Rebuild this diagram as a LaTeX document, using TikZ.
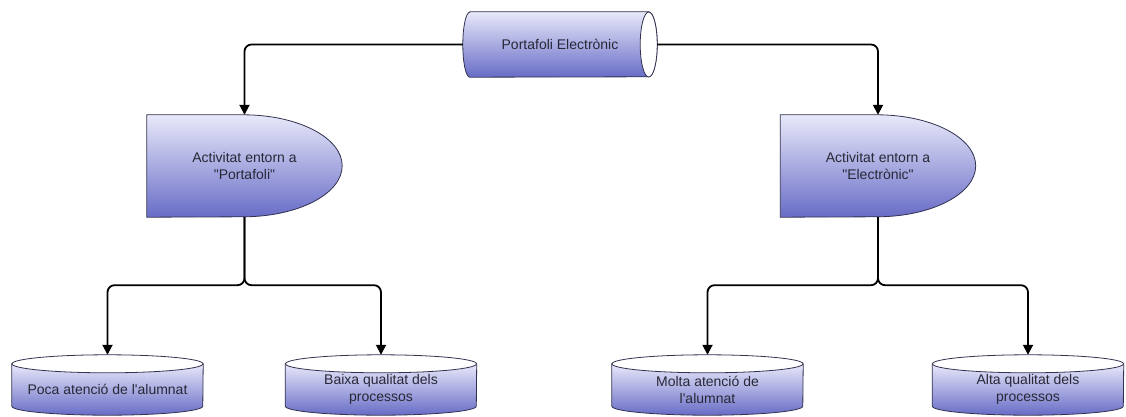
\documentclass[tikz,border=0pt]{standalone}
\usepackage{fontspec}
\setmainfont{Liberation Sans}
\usetikzlibrary{arrows.meta,calc}
\definecolor{shapetop}{RGB}{232,233,250}
\definecolor{shapebot}{RGB}{104,108,198}
\definecolor{shapeline}{RGB}{50,50,80}
\definecolor{labeltext}{RGB}{40,40,55}
\pgfdeclarelayer{background}
\pgfsetlayers{background,main}

\begin{document}
\begin{tikzpicture}[
    x=1pt, y=1pt,
    >={Triangle[length=10pt,width=10pt]},
    lbl/.style={align=center, inner sep=0pt, text=labeltext, font=\fontsize{14}{17}\selectfont},
    tube/.style={lbl, minimum width=194pt, minimum height=65pt},
    delay/.style={lbl, minimum width=195pt, minimum height=102pt},
    drum/.style={lbl, minimum width=191pt, minimum height=51pt},
    body/.style={draw=shapeline, line width=0.8pt, top color=shapetop, bottom color=shapebot},
    lid/.style={draw=shapeline, line width=0.8pt, fill=white},
    conn/.style={->, line width=1.8pt, rounded corners=7pt}
]
    \useasboundingbox (0,0) rectangle (1126,416);

    % Nodes
    \node[tube] (portfoli) at (560,371.5) {Portafoli Electrònic};
    \node[delay] (actport) at (244.5,250) {Activitat entorn a\\\textquotedbl Portafoli\textquotedbl};
    \node[delay] (actelec) at (878,250) {Activitat entorn a\\\textquotedbl Electrònic\textquotedbl};
    \node[drum] (poca) at (107.5,26.5) {Poca atenció de l\textquotesingle alumnat};
    \node[drum] (baixa) at (381,26.5) {Baixa qualitat dels\\processos};
    \node[drum] (molta) at (707.5,26.5) {Molta atenció de\\l\textquotesingle alumnat};
    \node[drum] (alta) at (1028,26.5) {Alta qualitat dels\\processos};

    % Shapes behind the texts
    \begin{pgfonlayer}{background}
        \path[body] ([xshift=7pt]portfoli.north west) -- ([xshift=-8.5pt]portfoli.north east)
            arc[start angle=90, end angle=-90, x radius=8.5pt, y radius=32.5pt]
            -- ([xshift=7pt]portfoli.south west)
            arc[start angle=270, end angle=90, x radius=7pt, y radius=32.5pt] -- cycle;
        \path[lid] ([xshift=-8.5pt]portfoli.east) ellipse[x radius=8.5pt, y radius=32.5pt];
        \foreach \n in {actport,actelec}
            \path[body] (\n.north west) -- ([xshift=-99pt]\n.north east)
                arc[start angle=90, end angle=-90, x radius=99pt, y radius=51pt]
                -- (\n.south west) -- cycle;
        \foreach \n in {poca,baixa,molta,alta}{
            \path[body] (\n.north west) -- ([yshift=9pt]\n.south west)
                arc[start angle=180, end angle=360, x radius=95.5pt, y radius=9pt]
                -- (\n.north east) -- cycle;
            \path[lid] (\n.north) ellipse[x radius=95.5pt, y radius=9pt];
        }
    \end{pgfonlayer}

    % Connectors
    \draw[conn] (portfoli.west) -| (actport.north);
    \draw[conn] (portfoli.east) -| (actelec.north);
    \foreach \s/\t in {actport/poca, actport/baixa, actelec/molta, actelec/alta}
        \draw[conn] (\s.south) -- ++(0,-68) -| ([yshift=9pt]\t.north);
\end{tikzpicture}
\end{document}
